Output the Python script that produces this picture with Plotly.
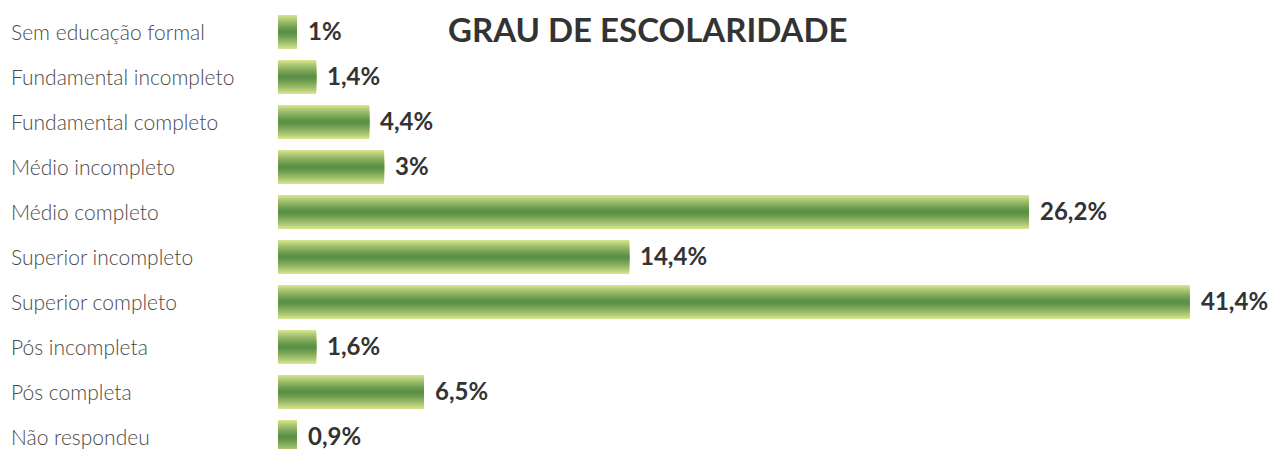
import plotly.graph_objects as go

# ---- data ----
categories = [
    "Sem educação formal",
    "Fundamental incompleto",
    "Fundamental completo",
    "Médio incompleto",
    "Médio completo",
    "Superior incompleto",
    "Superior completo",
    "Pós incompleta",
    "Pós completa",
    "Não respondeu",
]
# printed percentages
value_labels = ["1%", "1,4%", "4,4%", "3%", "26,2%", "14,4%", "41,4%", "1,6%", "6,5%", "0,9%"]
# drawn bar lengths (same axis units, 26,2 bar as reference)
bar_lengths = [0.66, 1.33, 3.18, 3.70, 26.2, 12.25, 31.8, 1.33, 5.09, 0.66]
title_text = "GRAU DE ESCOLARIDADE"

# ---- styling ----
PAGE_OFF = 8  # page body margin of the html page
W, H = 1284 - PAGE_OFF, 449 - PAGE_OFF
ML = 278 - PAGE_OFF
px_per_unit = 751 / 26.2
x_max = (W - ML) / px_per_unit
pitch = 45.0
first_center_px = 32.0 - PAGE_OFF

light = (213, 228, 140)
dark = (88, 142, 68)

def mix(f):
    return "rgb(%d,%d,%d)" % tuple(round(dark[i] + (light[i] - dark[i]) * f) for i in range(3))

ypos = list(range(len(categories)))

fig = go.Figure()
n_layers = 18
w_max = 0.755
for k in range(n_layers):
    w = w_max * (1 - k / n_layers)
    f = (w / w_max) ** 1.3
    fig.add_trace(go.Bar(
        x=bar_lengths, y=ypos, orientation="h", width=w,
        marker=dict(color=mix(f), line=dict(width=0)),
        hoverinfo="skip", showlegend=False,
    ))

label_font = dict(family="Lato", size=21, color="#4a4a4a")
value_font = dict(family="Lato", size=24, color="#333333")

annotations = []
for yi, cat in zip(ypos, categories):
    annotations.append(dict(
        x=0, y=yi, xref="paper", yref="y", text=cat, showarrow=False,
        xanchor="left", yanchor="middle", xshift=-(ML - 9 + PAGE_OFF), yshift=1,
        font=dict(**label_font, weight=300),
    ))
for yi, bl, txt in zip(ypos, bar_lengths, value_labels):
    annotations.append(dict(
        x=bl, y=yi, xref="x", yref="y", text=txt, showarrow=False,
        xanchor="left", yanchor="middle", xshift=9, yshift=2,
        font=dict(**value_font, weight="bold"),
    ))
annotations.append(dict(
    x=(648 - 278) / (W - ML), y=1, xref="paper", yref="paper", text=title_text,
    showarrow=False, xanchor="center", yanchor="top", yshift=0, borderpad=0,
    font=dict(family="Lato", size=33, color="#333333", weight="bold"),
))

y_top = -first_center_px / pitch
y_bot = (H - first_center_px) / pitch

fig.update_layout(
    width=W, height=H,
    margin=dict(l=ML, r=0, t=0, b=0),
    barmode="overlay",
    plot_bgcolor="white", paper_bgcolor="white",
    xaxis=dict(range=[0, x_max], visible=False, fixedrange=True),
    yaxis=dict(range=[y_bot, y_top], visible=False, fixedrange=True),
    annotations=annotations,
)

fig.write_html("out.html")
